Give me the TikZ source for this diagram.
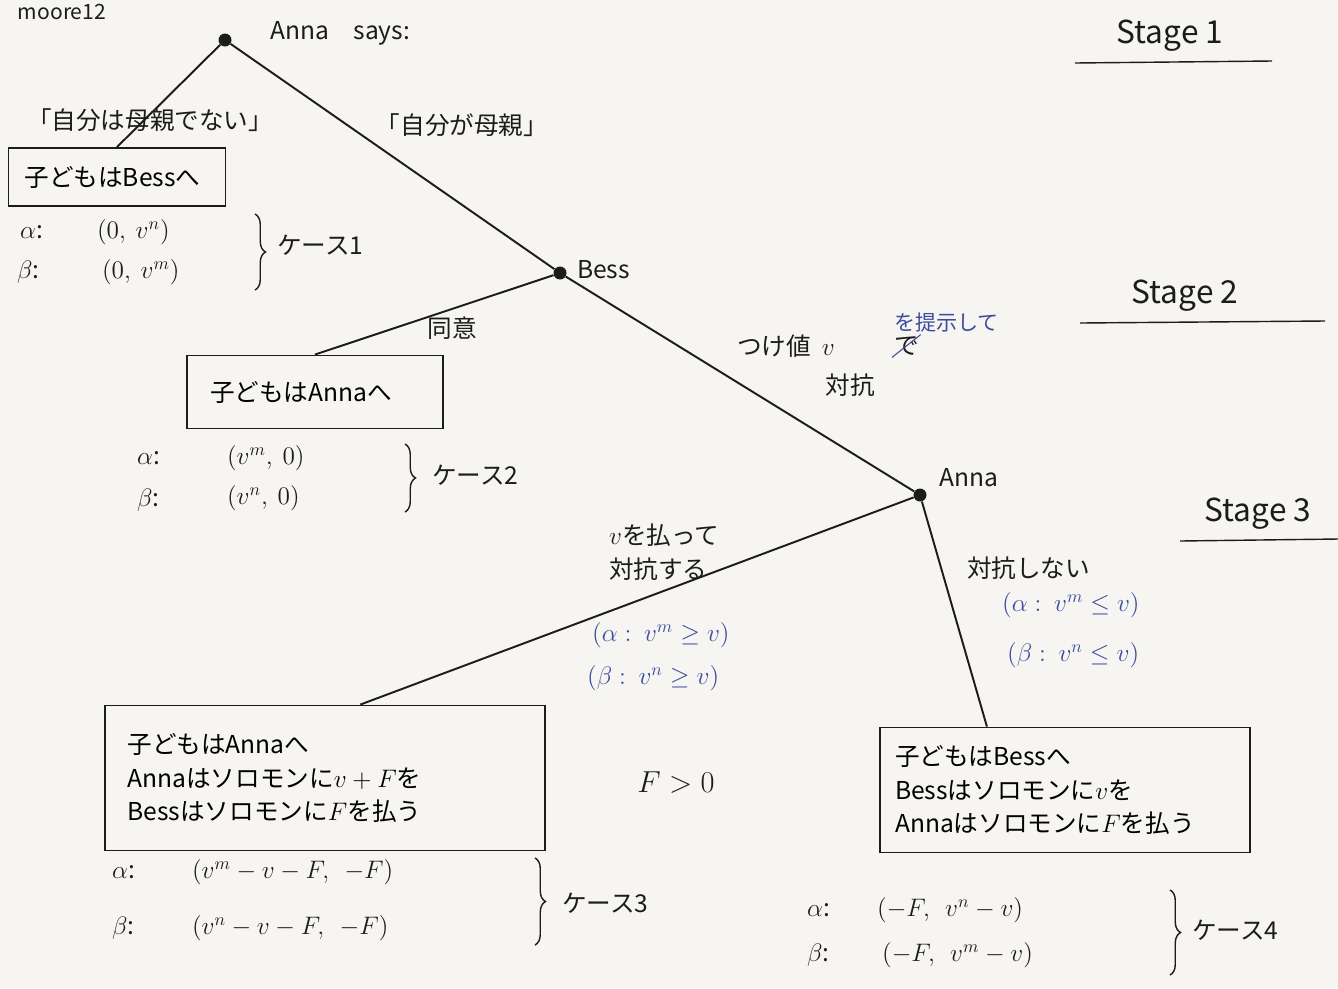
\documentclass[tikz,border=0pt]{standalone}
\usepackage{fontspec}
\newfontfamily\jp{Noto Sans CJK JP}
\usetikzlibrary{positioning,calc,decorations.pathreplacing}
\definecolor{paper}{HTML}{F6F5F1}
\definecolor{ink}{HTML}{1C1C1C}
\definecolor{blueink}{HTML}{3C4C9E}

\begin{document}
\begin{tikzpicture}[
  x=0.02cm, y=-0.02cm,
  font=\jp\fontsize{14}{19}\selectfont,
  dot/.style   = {circle, fill=ink, inner sep=0pt, minimum size=2.6mm},
  edge/.style  = {draw=ink, line width=1.1pt},
  box/.style   = {draw=ink, line width=1.1pt, align=left, inner ysep=3pt},
  lbl/.style   = {text=ink, inner sep=1pt},
  note/.style  = {text=blueink, inner sep=1pt, anchor=west},
  pay/.style   = {text=ink, inner sep=1pt, anchor=west},
  brc/.style   = {draw=ink, line width=.8pt, decorate, decoration={brace, amplitude=6pt}},
  stg/.style   = {text=ink, font=\jp\fontsize{18}{20}\selectfont},
  uline/.style = {draw=ink, line width=.8pt},
]
\useasboundingbox (0,0) rectangle (1338,988);
\fill[paper] (0,0) rectangle (1338,988);

% ── stage markers ───────────────────────────────────────────────────────
\node[lbl, font=\jp\fontsize{12}{14}\selectfont] (tag) at (62,12) {moore12};
\foreach \n/\x/\y/\a/\b in {1/1170/36/1075/1272, 2/1185/296/1080/1325, 3/1258/514/1180/1338}{
  \node[stg] (stage\n) at (\x,\y) {Stage \n};
  \draw[uline] (\a,\y+27) -- (\b,\y+25);
}

% ── decision nodes ──────────────────────────────────────────────────────
\node[dot] (root) at (225,40) {};
\node[dot] (bess) at (560,273) {};
\node[dot] (anna) at (920,495) {};
\node[lbl, anchor=west] (rootname) at (268,33) {Anna\quad says:};
\node[lbl, anchor=west] (bessname) at (575,270) {Bess};
\node[lbl, anchor=west] (annaname) at (937,478) {Anna};

% ── outcomes ────────────────────────────────────────────────────────────
\node[box, minimum width=4.34cm, minimum height=1.16cm, text width=3.7cm,
      inner xsep=.32cm] (out1) at (117,177) {子どもはBessへ};
\node[box, minimum width=5.12cm, minimum height=1.46cm, text width=4.2cm,
      inner xsep=.46cm] (out2) at (315,392) {子どもはAnnaへ\\[2mm]};
\node[box, minimum width=8.8cm, minimum height=2.9cm, text width=7.9cm,
      inner xsep=.45cm] (out3) at (325,778)
      {子どもはAnnaへ\\Annaはソロモンに$v+F$を\\Bessはソロモンに$F$を払う\\[1mm]};
\node[box, minimum width=7.4cm, minimum height=2.5cm, text width=6.8cm,
      inner xsep=.3cm] (out4) at (1065,790)
      {子どもはBessへ\\Bessはソロモンに$v$を\\Annaはソロモンに$F$を払う};

\coordinate (in3) at ($(out3.north west)!.58!(out3.north east)$);
\coordinate (in4) at ($(out4.north west)!.29!(out4.north east)$);

\draw[edge] (root) -- (out1.north);
\draw[edge] (root) -- (bess);
\draw[edge] (bess) -- (out2.north);
\draw[edge] (bess) -- (anna);
\draw[edge] (anna) -- (in3);
\draw[edge] (anna) -- (in4);

% ── action labels ───────────────────────────────────────────────────────
\node[lbl] (notmom) at (150,120) {「自分は母親でない」};
\node[lbl] (mom) at (462,125) {「自分が母親」};
\node[lbl] (agree) at (452,328) {同意};
\node[lbl, anchor=west] (offer) at (735,346) {つけ値\ \ $v$};
\node[lbl, right=11mm of offer] (struck) {で};
\draw[blueink, line width=.6pt] (struck.south west) -- (struck.north east);
\node[note, font=\jp\fontsize{12}{14}\selectfont] (present) at (892,322) {を提示して};
\node[lbl] (oppose) at (850,385) {対抗};
\node[lbl, anchor=west, align=left] (paybid) at (607,552) {$v$を払って\\対抗する};
\node[lbl, anchor=west] (nooppose) at (965,568) {対抗しない};
\node[note] (condA3) at (590,635) {$(\alpha:\ v^{m}\geq v)$};
\node[note] (condB3) at (585,678) {$(\beta:\ v^{n}\geq v)$};
\node[note] (condA4) at (1000,605) {$(\alpha:\ v^{m}\leq v)$};
\node[note] (condB4) at (1005,655) {$(\beta:\ v^{n}\leq v)$};
\node[lbl, font=\fontsize{18}{20}\selectfont] (fpos) at (676,783) {$F>0$};

% ── payoffs ─────────────────────────────────────────────────────────────
\node[pay] (a1) at (18,232) {$\alpha$:};
\node[pay] (pa1) at (95,232) {$(0,\ v^{n})$};
\node[pay] (b1) at (15,272) {$\beta$:};
\node[pay] (pb1) at (100,272) {$(0,\ v^{m})$};
\draw[brc] (255,214) -- (255,290);
\node[pay] (case1) at (275,245) {ケース1};

\node[pay] (a2) at (135,458) {$\alpha$:};
\node[pay] (pa2) at (225,458) {$(v^{m},\ 0)$};
\node[pay] (b2) at (135,500) {$\beta$:};
\node[pay] (pb2) at (225,498) {$(v^{n},\ 0)$};
\draw[brc] (405,444) -- (405,512);
\node[pay] (case2) at (430,475) {ケース2};

\node[pay] (a3) at (110,872) {$\alpha$:};
\node[pay] (pa3) at (190,872) {$(v^{m}-v-F,\ \ -F)$};
\node[pay] (b3) at (110,928) {$\beta$:};
\node[pay] (pb3) at (190,928) {$(v^{n}-v-F,\ \ -F)$};
\draw[brc] (535,858) -- (535,945);
\node[pay] (case3) at (560,903) {ケース3};

\node[pay] (a4) at (805,910) {$\alpha$:};
\node[pay] (pa4) at (875,910) {$(-F,\ \ v^{n}-v)$};
\node[pay] (b4) at (805,955) {$\beta$:};
\node[pay] (pb4) at (880,955) {$(-F,\ \ v^{m}-v)$};
\draw[brc] (1170,890) -- (1170,975);
\node[pay] (case4) at (1190,930) {ケース4};
\end{tikzpicture}
\end{document}
